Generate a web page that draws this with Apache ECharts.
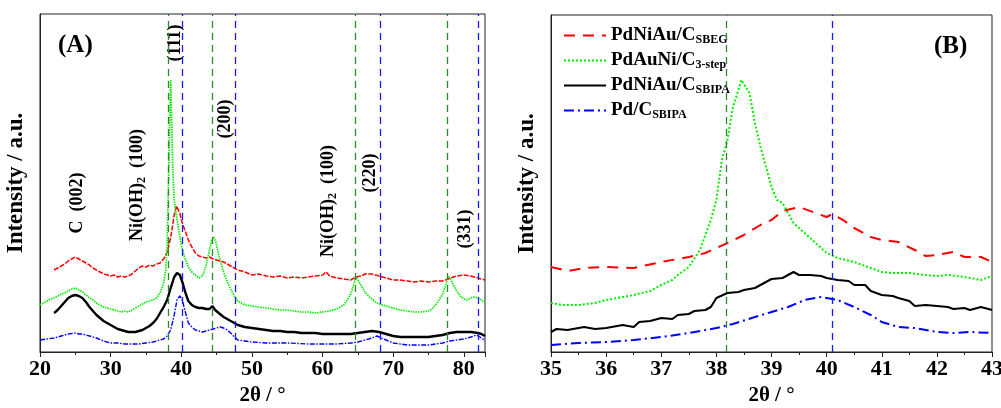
<!DOCTYPE html>
<html>
<head>
<meta charset="utf-8">
<script src="https://cdn.jsdelivr.net/npm/echarts@6/dist/echarts.min.js"></script>
<style>
  html, body { margin: 0; padding: 0; background: #fff; overflow: hidden; }
  #chart { width: 1001px; height: 408px; }
</style>
</head>
<body>
<div id="chart"></div>
<script>
// panel (A): full XRD scans, 2theta in degrees, intensity in a.u.
const thetaRedA = [22,22.5,23,23.5,24,24.5,25,25.5,26,26.5,27,27.5,28,28.5,29,29.5,30,30.5,31,31.5,32,32.5,33,33.5,34,34.5,35,35.5,36,36.5,37,37.5,38,38.5,39,39.3,39.5,39.8,40,40.5,41,41.5,42,42.5,43,43.5,44,44.5,45,45.5,46,46.5,47,47.5,48,49,50,51,52,53,54,55,56,57,58,59,60,60.5,61,62,63,64,64.7,65.5,66,67,67.5,68,69,70,71,72,73,74,75,76,77,77.8,78.5,79,80,81,82,83];
const redA = [82,84,86,88,91,93,95,93,91,89,87,84,82,80,78,77,76,77,75,76,75,76,78,81,84,86,85,87,86,88,89,93,100,114,137,146,145,139,132,122,112,105,99,96,95,94,95,93,92,91,90,88,86,84,82,80,77,78,76,75,76,74,75,74,75,76,77,80,76,74,73,72,75,76,78,78,77,76,74,72,72,71,70,71,70,71,71,73,75,76,77,76,74,72];

const thetaGreenA = [20,20.5,21,21.5,22,22.5,23,23.5,24,24.5,25,25.5,26,26.5,27,27.5,28,28.5,29,29.5,30,30.5,31,31.5,32,32.5,33,33.5,34,34.5,35,35.5,36,36.5,37,37.5,37.8,38,38.2,38.4,38.5,38.6,38.8,39,39.3,39.6,40,40.5,41,41.5,42,42.5,43,43.5,44,44.3,44.6,44.9,45.3,45.7,46,46.5,47,47.5,48,48.5,49,50,51,52,53,54,55,56,57,58,59,60,61,62,63,63.5,64,64.4,64.7,65,65.5,66,66.5,67,67.5,68,69,70,71,72,73,74,75,75.5,76,76.5,77,77.5,77.8,78.2,78.6,79,79.5,80,80.5,81,81.5,82,82.5,83];
const greenA = [47,49,51,53,54,56,58,59,61,63,64,62,60,57,54,52,49,47,45,44,43,42,41,40,41,40,42,44,46,48,50,51,52,54,59,69,82,107,172,242,272,242,182,152,137,124,107,94,85,80,77,74,76,86,102,112,115,110,97,87,80,70,63,56,51,49,47,46,45,44,43,42,42,41,40,40,39,40,41,43,47,52,58,67,75,72,66,60,56,53,50,48,46,44,42,41,40,40,41,43,47,52,58,68,76,72,66,61,56,53,52,54,55,54,52,49];

const thetaBlackA = [22,22.5,23,23.5,24,24.5,25,25.5,26,26.5,27,27.5,28,28.5,29,29.5,30,30.5,31,31.5,32,32.5,33,33.5,34,34.5,35,35.5,36,36.5,37,37.5,38,38.5,39,39.4,39.8,40.2,40.6,41,41.5,42,42.5,43,43.5,44,44.4,44.8,45.3,46,46.5,47,47.5,48,49,50,51,52,53,54,55,56,57,58,59,60,61,62,63,64,65,66,67,68,69,70,71,72,73,74,75,76,77,78,79,80,81,82,82.5,83];
const blackA = [39,42,46,50,54,56,57,56,54,50,45,41,37,34,31,29,27,25,23,22,21,20,20,20,21,22,24,26,29,33,39,45,52,64,75,79,77,69,59,51,47,45,44,44,43,43,46,42,39,35,33,31,29,27,25,24,23,22,21,21,20,20,19,19,19,18,18,18,18,18,19,20,21,20,18,16,15,15,15,15,15,16,17,19,20,20,20,19,18,16];

const thetaBlueA = [20,21,22,23,24,25,25.5,26,27,28,29,30,31,32,33,34,35,36,37,37.5,38,38.5,39,39.4,39.8,40.1,40.5,40.8,41,41.5,42,42.5,43,43.5,44,44.5,45,45.5,46,46.5,47,47.5,48,49,50,52,55,58,60,62,64,65,66,67,67.7,68.3,69,70,71,72,73,74,75,76,77,78,79,80,81,81.8,82.3,82.7,83];
const blueA = [12,13,14,16,18,19,18,18,16,14,11,9,9,8,8,8,9,10,12,13,16,22,37,52,56,53,42,34,29,25,22,21,20,21,22,23,24,25,24,22,19,15,12,11,10,9,9,8,8,8,9,10,12,14,16,14,12,9,8,7,7,7,7,8,9,11,12,13,15,17,15,13,11];

// panel (B): zoom on the (111) region
const thetaRedB = [35,35.3,35.6,36,36.5,37,37.5,37.8,38,38.2,38.5,38.8,39,39.2,39.5,39.8,40,40.1,40.3,40.5,40.8,41,41.3,41.6,41.8,42,42.3,42.5,42.8,43];
const redB = [85,81,84,85,84,90,95,99,104,109,117,127,132,141,145,139,135,138,132,124,115,112,110,102,96,97,100,95,95,90];

const thetaGreenB = [35,35.2,35.5,35.8,36,36.3,36.5,36.8,37,37.2,37.3,37.5,37.7,37.9,38,38.1,38.2,38.3,38.4,38.45,38.5,38.6,38.7,38.8,38.9,39,39.1,39.2,39.4,39.6,39.8,40,40.2,40.5,40.8,41,41.2,41.5,41.8,42,42.2,42.5,42.8,43];
const greenB = [49,47,47,49,52,55,57,61,67,72,77,85,102,132,152,192,212,245,262,272,268,259,229,205,185,165,152,149,129,119,109,99,94,90,84,80,79,79,77,76,77,75,72,76];

const thetaBlackB = [35,35.1,35.3,35.5,35.6,35.8,36,36.2,36.3,36.5,36.6,36.8,37,37.2,37.3,37.5,37.6,37.8,37.9,38,38.2,38.4,38.5,38.7,38.8,39,39.2,39.4,39.5,39.7,39.9,40,40.2,40.4,40.5,40.7,40.8,41,41.2,41.3,41.5,41.6,41.8,42,42.2,42.3,42.5,42.6,42.8,43];
const blackB = [20,23,22,24,25,23,24,26,27,25,30,31,34,33,37,38,41,42,45,54,59,60,62,64,67,73,74,80,77,77,76,74,72,71,67,67,61,57,56,54,51,46,47,46,45,43,44,42,45,42];

const thetaBlueB = [35,35.5,36,36.5,37,37.5,38,38.3,38.7,39,39.3,39.6,39.9,40.2,40.5,40.8,41,41.3,41.6,42,42.3,42.6,43];
const blueB = [7,9,10,12,15,19,24,28,35,40,45,52,55,52,45,37,30,25,24,20,19,20,19];

// reference reflections (Au green, Pd blue)
const refGreenA = [38.2, 44.4, 64.6, 77.6];
const refBlueA = [40.1, 47.6, 68.1, 82.1];
const refGreenB = [38.18];
const refBlueB = [40.1];

const seriesNames = ['PdNiAu/C_SBEG', 'PdAuNi/C_3-step', 'PdNiAu/C_SBIPA', 'Pd/C_SBIPA'];
const legendLabels = {
  'PdNiAu/C_SBEG': ['PdNiAu/C', 'SBEG'],
  'PdAuNi/C_3-step': ['PdAuNi/C', '3-step'],
  'PdNiAu/C_SBIPA': ['PdNiAu/C', 'SBIPA'],
  'Pd/C_SBIPA': ['Pd/C', 'SBIPA']
};

const FONT = '"Liberation Serif", "Times New Roman", serif';
const chart = echarts.init(document.getElementById('chart'), null, { renderer: 'canvas' });

const zip = (xs, ys) => xs.map((x, i) => [x, ys[i]]);

const refLines = (greens, blues) => ({
  silent: true,
  symbol: 'none',
  label: { show: false },
  data: greens.map((v) => ({ xAxis: v, lineStyle: { color: '#2a8a2a', type: [7, 5], width: 1.3 } }))
    .concat(blues.map((v) => ({ xAxis: v, lineStyle: { color: '#1a1aff', type: [7, 5], width: 1.3 } })))
});

const xAxisBase = {
  type: 'value',
  axisLine: { show: true, lineStyle: { color: '#222', width: 1 } },
  axisTick: { show: true, inside: false, length: 5, lineStyle: { color: '#222' } },
  minorTick: { show: true, splitNumber: 2, length: 3, lineStyle: { color: '#222' } },
  splitLine: { show: false },
  minorSplitLine: { show: false },
  axisLabel: { color: '#000', fontFamily: FONT, fontWeight: 'bold', fontSize: 22, margin: 6 },
  name: '2θ / °',
  nameLocation: 'middle',
  nameGap: 32,
  nameTextStyle: { color: '#000', fontFamily: FONT, fontWeight: 'bold', fontSize: 21 }
};

const yAxisBase = {
  type: 'value',
  min: 0,
  max: 338,
  axisLine: { show: true, lineStyle: { color: '#222' } },
  axisTick: { show: false },
  axisLabel: { show: false },
  splitLine: { show: false },
  name: 'Intensity / a.u.',
  nameLocation: 'middle',
  nameRotate: 90,
  nameGap: 12,
  nameTextStyle: { color: '#000', fontFamily: FONT, fontWeight: 'bold', fontSize: 23 }
};

const richText = {
  a: { font: 'bold 18px ' + FONT, fill: '#000', lineHeight: 22 },
  s: { font: 'bold 12px ' + FONT, fill: '#000', lineHeight: 13, verticalAlign: 'bottom' }
};
const rotLabel = (x, y, text) => ({
  type: 'text', x: x, y: y, rotation: Math.PI / 2,
  style: { text: text, rich: richText, align: 'center', verticalAlign: 'middle' }
});

const option = {
  animation: false,
  backgroundColor: '#fff',
  grid: [
    { left: 40, top: 14, width: 445, height: 338, show: true, borderColor: '#222', borderWidth: 1, outerBoundsMode: 'none' },
    { left: 551, top: 15, width: 441, height: 337, show: true, borderColor: '#222', borderWidth: 1, outerBoundsMode: 'none' }
  ],
  xAxis: [
    Object.assign({}, xAxisBase, { gridIndex: 0, min: 20, max: 83, interval: 10,
      axisLabel: Object.assign({}, xAxisBase.axisLabel, { showMaxLabel: false }) }),
    Object.assign({}, xAxisBase, { gridIndex: 1, min: 35, max: 43, interval: 1 })
  ],
  yAxis: [
    Object.assign({}, yAxisBase, { gridIndex: 0 }),
    Object.assign({}, yAxisBase, { gridIndex: 1, max: 337 })
  ],
  legend: {
    orient: 'vertical',
    left: 558,
    top: 21,
    itemWidth: 42,
    itemHeight: 12,
    itemGap: 5,
    itemStyle: { opacity: 0 },
    data: seriesNames,
    formatter: (name) => '{m|' + legendLabels[name][0] + '}{s|' + legendLabels[name][1] + '}',
    textStyle: {
      color: '#000',
      rich: {
        m: { fontFamily: FONT, fontWeight: 'bold', fontSize: 19, lineHeight: 21, color: '#000' },
        s: { fontFamily: FONT, fontWeight: 'bold', fontSize: 12, lineHeight: 13, verticalAlign: 'bottom', color: '#000' }
      }
    }
  },
  graphic: [
    { type: 'text', left: 58, top: 33, style: { text: '(A)', font: 'bold 25px ' + FONT, fill: '#000' } },
    { type: 'text', left: 934, top: 34, style: { text: '(B)', font: 'bold 25px ' + FONT, fill: '#000' } },
    rotLabel(77, 203, '{a|C  (002)}'),
    rotLabel(137, 185, '{a|Ni(OH)}{s|2}{a|  (100)}'),
    rotLabel(175, 43, '{a|(111)}'),
    rotLabel(225, 119, '{a|(200)}'),
    rotLabel(328, 201, '{a|Ni(OH)}{s|2}{a|  (100)}'),
    rotLabel(370, 173, '{a|(220)}'),
    rotLabel(465, 229, '{a|(331)}')
  ],
  series: [
    // panel B first so the legend icons take these line styles
    { name: seriesNames[0], type: 'line', xAxisIndex: 1, yAxisIndex: 1, showSymbol: false, symbol: 'none',
      data: zip(thetaRedB, redB), lineStyle: { color: '#ff0000', width: 2, type: [11, 8] }, itemStyle: { color: '#ff0000' } },
    { name: seriesNames[1], type: 'line', xAxisIndex: 1, yAxisIndex: 1, showSymbol: false, symbol: 'none',
      data: zip(thetaGreenB, greenB), lineStyle: { color: '#00ee00', width: 2, type: [2, 2] }, itemStyle: { color: '#00ee00' } },
    { name: seriesNames[2], type: 'line', xAxisIndex: 1, yAxisIndex: 1, showSymbol: false, symbol: 'none',
      data: zip(thetaBlackB, blackB), lineStyle: { color: '#000', width: 2 }, itemStyle: { color: '#000' } },
    { name: seriesNames[3], type: 'line', xAxisIndex: 1, yAxisIndex: 1, showSymbol: false, symbol: 'none',
      data: zip(thetaBlueB, blueB), lineStyle: { color: '#0000ff', width: 2, type: [10, 4, 2, 4] }, itemStyle: { color: '#0000ff' },
      markLine: refLines(refGreenB, refBlueB) },

    { name: seriesNames[0], type: 'line', showSymbol: false, symbol: 'none',
      data: zip(thetaRedA, redA), lineStyle: { color: '#ff0000', width: 1.5, type: [5, 1.5] } },
    { name: seriesNames[1], type: 'line', showSymbol: false, symbol: 'none',
      data: zip(thetaGreenA, greenA), lineStyle: { color: '#00ee00', width: 1.7, type: [1.5, 1] } },
    { name: seriesNames[2], type: 'line', showSymbol: false, symbol: 'none',
      data: zip(thetaBlackA, blackA), lineStyle: { color: '#000', width: 2.4 } },
    { name: seriesNames[3], type: 'line', showSymbol: false, symbol: 'none',
      data: zip(thetaBlueA, blueA), lineStyle: { color: '#0000ff', width: 1.4, type: [5, 1.5, 1.5, 1.5] },
      markLine: refLines(refGreenA, refBlueA) }
  ]
};

chart.setOption(option);
</script>
</body>
</html>
